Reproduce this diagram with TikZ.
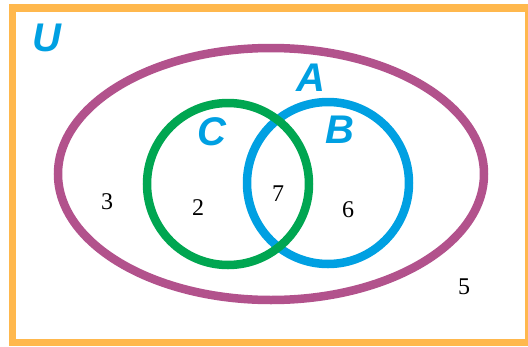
\documentclass[tikz,border=0pt]{standalone}
\usepackage{fontspec}
\setmainfont{Liberation Serif}
\newfontfamily\setfont{Liberation Sans}
\definecolor{frameorange}{RGB}{255,184,77}
\definecolor{setpurple}{RGB}{178,82,140}
\definecolor{setgreen}{RGB}{0,166,81}
\definecolor{setblue}{RGB}{0,160,226}
\tikzset{
  setline/.style={line width=8.5pt},
  setname/.style={text=setblue, font=\setfont\bfseries\itshape\fontsize{40}{40}\selectfont, inner sep=0pt},
  count/.style={text=black, font=\fontsize{24}{24}\selectfont, inner sep=0pt}
}
\begin{document}
\begin{tikzpicture}[x=1pt,y=-1pt]
  \useasboundingbox (0,0) rectangle (528,346);
  \clip (0,0) rectangle (528,346);
  \fill[white] (0,0) rectangle (528,346);
  % universe frame
  \draw[frameorange, line width=7.5pt] (12.5,8) rectangle (529,342.5);
  % set A
  \draw[setpurple, setline] (271,174) ellipse [x radius=213pt, y radius=126pt];
  % set B
  \draw[setblue, setline] (328,183) circle [radius=81pt];
  % set C
  \draw[setgreen, setline] (228,184) circle [radius=81pt];
  % set names
  \node[setname] (U) at (47,38) {U};
  \node[setname] (A) at (311,78) {A};
  \node[setname] (C) at (212,132) {C};
  \node[setname] (B) at (340,130) {B};
  % element counts
  \node[count] (n3) at (107,202) {3};
  \node[count] (n2) at (198,208) {2};
  \node[count] (n7) at (278,194) {7};
  \node[count] (n6) at (348,210) {6};
  \node[count] (n5) at (464,287) {5};
\end{tikzpicture}
\end{document}
